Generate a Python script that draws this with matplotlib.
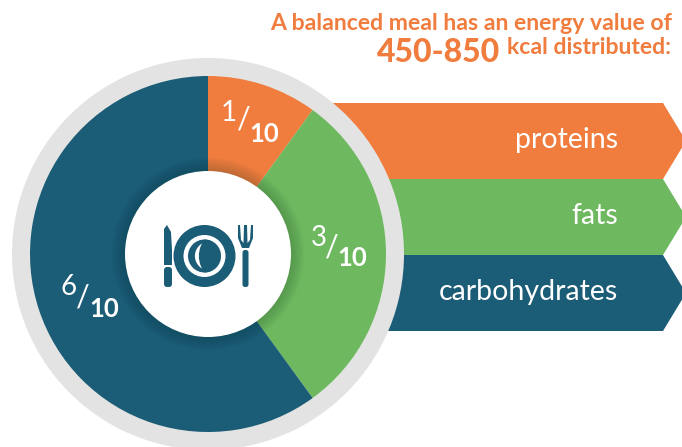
import matplotlib
matplotlib.use("Agg")
import matplotlib.pyplot as plt
from matplotlib.patches import Circle, Polygon, FancyBboxPatch

categories = ["proteins", "fats", "carbohydrates"]
tenths = [1, 3, 6]
colors = ["#f07c3e", "#6eb95f", "#1b5c76"]
labelDenominator = "10"
titleLine1 = "A balanced meal has an energy value of"
titleBig = "450-850"
titleLine2 = "kcal distributed:"

W, H = 682, 447
plt.rcParams["font.family"] = ["Lato", "DejaVu Sans"]

fig = plt.figure(figsize=(W / 100, H / 100), dpi=100)
ax = fig.add_axes([0, 0, 1, 1])
ax.set_xlim(0, W)
ax.set_ylim(0, H)
ax.axis("off")


def Y(y):
    # picture coords are measured from the top
    return H - y


cx, cy = 208, Y(254)

# banners behind the ring
bannerTop = [103, 179, 255]
bannerH = 76
for top, col, name in zip(bannerTop, colors, categories):
    pts = [(300, Y(top)), (663, Y(top)), (686, Y(top + bannerH / 2)),
           (663, Y(top + bannerH)), (300, Y(top + bannerH))]
    ax.add_patch(Polygon(pts, closed=True, fc=col, ec="none", zorder=1))
    ax.text(618, Y(top + bannerH / 2 - 1), name, color="white", fontsize=20.5,
            ha="right", va="center", zorder=2)

# grey ring and pie
ax.add_patch(Circle((cx, cy), 196, fc="#e3e3e3", ec="none", zorder=3))
wedges, _ = ax.pie(tenths, colors=colors, startangle=90, counterclock=False,
                   center=(cx, cy), radius=178, frame=False,
                   wedgeprops=dict(linewidth=0))
for w in wedges:
    w.set_zorder(4)
ax.set_xlim(0, W)
ax.set_ylim(0, H)
ax.set_aspect("auto")

# soft shadow round the middle disc
for i in range(10):
    ax.add_patch(Circle((cx, cy), 83 + i * 1.5, fc="#0c2a20", ec="none", alpha=0.022, zorder=5))
ax.add_patch(Circle((cx, cy), 83, fc="white", ec="none", zorder=6))

# fractions: numerator, slash, denominator centres
fracPos = [(229, 113, 244, 119, 264, 134),
           (319, 238, 332, 247, 352, 258),
           (69, 287, 83, 297, 104, 309)]
for n, (x1, y1, xs, ys, x2, y2) in zip(tenths, fracPos):
    ax.text(x1, Y(y1), str(n), color="white", fontsize=20, ha="center", va="center", zorder=7)
    ax.text(xs, Y(ys), "/", color="white", fontsize=22, ha="center", va="center", zorder=7)
    ax.text(x2, Y(y2), labelDenominator, color="white", fontsize=18.5, fontweight="bold",
            ha="center", va="center", zorder=7)

# plate icon
dark = colors[2]
px, py = 204.5, Y(256)
ax.add_patch(Circle((px, py), 31, fc=dark, ec="none", zorder=8))
ax.add_patch(Circle((px, py), 21, fc="white", ec="none", zorder=9))
inner = Circle((px, py), 16.5, fc=dark, ec="none", zorder=10)
ax.add_patch(inner)
moon = Circle((px + 5, py), 14.6, fc="white", ec="none", zorder=11)
ax.add_patch(moon)
moon.set_clip_path(inner)
moonCover = Circle((px + 22, py), 27.6, fc=dark, ec="none", zorder=12)
ax.add_patch(moonCover)
moonCover.set_clip_path(inner)

# knife
ax.add_patch(Polygon([(164, Y(265)), (164, Y(229)), (167, Y(225)), (171, Y(232)), (172, Y(250)),
                      (172, Y(265))], closed=True, fc=dark, ec="none", zorder=8))
ax.add_patch(FancyBboxPatch((164, Y(287)), 8, 20, boxstyle="round,pad=0,rounding_size=3",
                            fc=dark, ec="none", zorder=8))
# fork
ax.add_patch(FancyBboxPatch((242.5, Y(287)), 6, 37, boxstyle="round,pad=0,rounding_size=2.5",
                            fc=dark, ec="none", zorder=8))
ax.add_patch(Polygon([(238, Y(225)), (240, Y(225)), (241, Y(240)), (243.5, Y(243)), (244, Y(225)),
                      (247, Y(225)), (247.5, Y(243)), (250, Y(240)), (251, Y(225)), (253, Y(225)),
                      (253, Y(238)), (249, Y(248)), (242, Y(248)), (238, Y(238))],
                     closed=True, fc=dark, ec="none", zorder=8))

# heading
orange = colors[0]
ax.text(672, Y(24), titleLine1, color=orange, fontsize=16.6, fontweight="bold", ha="right", va="center")
ax.text(671, Y(48), titleLine2, color=orange, fontsize=16.6, fontweight="bold", ha="right", va="center")
ax.text(500, Y(52), titleBig, color=orange, fontsize=23, fontweight="black", ha="right", va="center")

fig.savefig("out.png", dpi=100)
